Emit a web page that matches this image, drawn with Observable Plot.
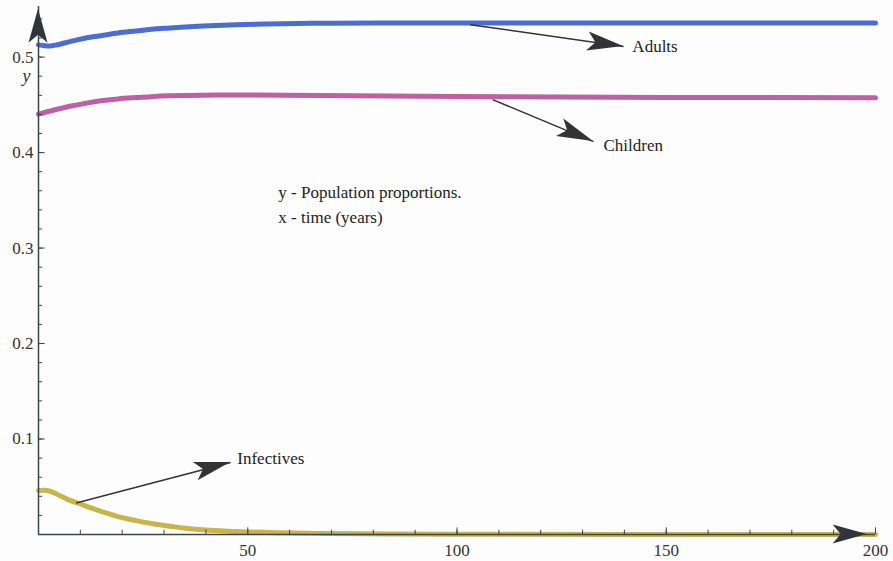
<!DOCTYPE html>
<html>
<head>
<meta charset="utf-8">
<script src="https://cdn.jsdelivr.net/npm/d3@7"></script>
<script src="https://cdn.jsdelivr.net/npm/@observablehq/plot@0.6"></script>
<style>
  html, body { margin: 0; padding: 0; background: #fdfdfd; }
  #chart svg { display: block; }
  #chart svg, #chart svg text { font-family: "Liberation Serif", "DejaVu Serif", serif !important; }
</style>
</head>
<body>
<div id="chart"></div>
<script>
// ---- data ----
const tAdults   = [0, 1.5, 2.7, 4.5, 7.5, 11, 15.5, 19, 23.4, 27, 31.4, 35, 39.3, 47.3, 58.5, 70, 85, 100, 150, 200];
const adults    = [0.5128, 0.5120, 0.5117, 0.5130, 0.5162, 0.5198, 0.5229, 0.5253, 0.5274, 0.5291, 0.5305, 0.5316, 0.5326, 0.5340, 0.5350, 0.5355, 0.5357, 0.5358, 0.5358, 0.5358];

const tChildren = [0, 3.5, 7.5, 11.5, 15.5, 19, 23.4, 27, 31.4, 35, 39.3, 47.3, 58.5, 75, 100, 150, 200];
const children  = [0.4402, 0.4443, 0.4485, 0.4518, 0.4545, 0.4562, 0.4576, 0.4586, 0.4594, 0.4598, 0.4601, 0.4603, 0.4600, 0.4595, 0.4588, 0.4578, 0.4573];

const tInfect   = [0, 1.5, 2.7, 4.3, 7.5, 9.9, 12.5, 15.5, 19, 23.4, 27, 31.4, 35, 39.3, 47.3, 58.5, 70, 85, 100, 150, 200];
const infect    = [0.0462, 0.0463, 0.0455, 0.0425, 0.0358, 0.0322, 0.0278, 0.0234, 0.0187, 0.0145, 0.0115, 0.0087, 0.0066, 0.0049, 0.0031, 0.0018, 0.0010, 0.0005, 0.0003, 0.0001, 0.0];

const seriesNames  = ["Adults", "Children", "Infectives"];
const seriesColors = ["#4b6cd1", "#bf5fa5", "#c9b449"];

const xTicks      = [50, 100, 150, 200];
const xMinorTicks = d3.range(10, 201, 10);
const yTicks      = [0.1, 0.2, 0.3, 0.4, 0.5];
const yMinorTicks = d3.range(1, 28).map(i => +(i * 0.02).toFixed(2));

// annotation arrows (data coordinates)
const annLabels = ["Adults", "Children", "Infectives"];
const annFromX  = [103.2, 108.5, 9.0];
const annFromY  = [0.534, 0.4555, 0.0330];
const annToX    = [139.8, 132.6, 45.9];
const annToY    = [0.511, 0.4115, 0.0754];
const annTextX  = [141.9, 135.0, 47.5];
const annTextY  = [0.511, 0.4075, 0.0795];

const noteLines = ["y - Population proportions.", "x - time (years)"];
const noteX = [57.3, 57.3];
const noteY = [0.358, 0.332];

// ---- tables built from the arrays ----
const lineData = [
  ...tAdults.map((t, i) => ({t, v: adults[i], s: "Adults"})),
  ...tChildren.map((t, i) => ({t, v: children[i], s: "Children"})),
  ...tInfect.map((t, i) => ({t, v: infect[i], s: "Infectives"}))
];
const ann = annLabels.map((label, i) => ({label, x1: annFromX[i], y1: annFromY[i], x2: annToX[i], y2: annToY[i], tx: annTextX[i], ty: annTextY[i]}));
const notes = noteLines.map((text, i) => ({text, x: noteX[i], y: noteY[i]}));

const axisColor = "#3a4652";
const serif = "'Liberation Serif', 'DejaVu Serif', serif";

const chart = Plot.plot({
  width: 893,
  height: 561,
  marginLeft: 38,
  marginRight: 18,
  marginTop: 6,
  marginBottom: 27,
  style: {fontFamily: serif, fontSize: "17px", color: "#333", background: "transparent"},
  x: {domain: [0, 200], ticks: xTicks, tickSize: 0, tickPadding: 9, label: null},
  y: {domain: [0, 0.553], ticks: yTicks, tickSize: 0, tickPadding: 5, label: null, tickFormat: d => d.toFixed(1)},
  color: {domain: seriesNames, range: seriesColors},
  marks: [
    Plot.line(lineData, {x: "t", y: "v", z: "s", stroke: "s", strokeWidth: 5, curve: "monotone-x", strokeLinecap: "round"}),
    // axes lines
    Plot.ruleX([0], {stroke: axisColor, strokeWidth: 1.5}),
    Plot.ruleY([0], {stroke: axisColor, strokeWidth: 1.5}),
    // inward ticks
    Plot.ruleY(yMinorTicks, {y: d => d, x1: 0, x2: 1.0, stroke: axisColor}),
    Plot.ruleY(yTicks, {y: d => d, x1: 0, x2: 1.6, stroke: axisColor}),
    Plot.ruleX(xMinorTicks, {x: d => d, y1: 0, y2: 0.0045, stroke: axisColor}),
    Plot.ruleX(xTicks, {x: d => d, y1: 0, y2: 0.007, stroke: axisColor}),
    // y label
    Plot.text(["y"], {x: 0, y: 0.48, text: d => d, dx: -8, textAnchor: "end", fontStyle: "italic", fontSize: 18, fill: "#333"}),
    // annotation shafts
    Plot.link(ann, {x1: "x1", y1: "y1", x2: "x2", y2: "y2", stroke: "#333", strokeWidth: 1.5}),
    Plot.text(ann, {x: "tx", y: "ty", text: "label", textAnchor: "start", fontSize: 17, fill: "#222"}),
    Plot.text(notes, {x: "x", y: "y", text: "text", textAnchor: "start", fontSize: 17, fill: "#222"})
  ]
});

document.getElementById("chart").appendChild(chart);

// filled arrowheads drawn through the plot's scales
const svg = d3.select(chart.tagName.toLowerCase() === "svg" ? chart : chart.querySelector("svg"));
const sx = chart.scale("x"), sy = chart.scale("y");
const X = v => sx.apply ? sx.apply(v) : d3.scaleLinear(sx.domain, sx.range)(v);
const Y = v => sy.apply ? sy.apply(v) : d3.scaleLinear(sy.domain, sy.range)(v);

function head(x0, y0, x1, y1, L, W, fill) {
  const dx = x1 - x0, dy = y1 - y0, len = Math.hypot(dx, dy);
  const ux = dx / len, uy = dy / len, nx = -uy, ny = ux;
  const p = [
    [x1, y1],
    [x1 - ux * L + nx * W, y1 - uy * L + ny * W],
    [x1 - ux * (L - 8), y1 - uy * (L - 8)],
    [x1 - ux * L - nx * W, y1 - uy * L - ny * W]
  ];
  svg.append("path")
    .attr("d", "M" + p.map(q => q.join(",")).join("L") + "Z")
    .attr("fill", fill);
}
// axis arrowheads
head(X(0), Y(0), X(0), Y(0.550), 34, 9.5, "#2f3538");
head(X(0), Y(0), X(198), Y(0), 34, 9.5, "#2f3538");
// annotation arrowheads
ann.forEach(a => head(X(a.x1), Y(a.y1), X(a.x2), Y(a.y2), 36, 9.5, "#333"));
</script>
</body>
</html>
